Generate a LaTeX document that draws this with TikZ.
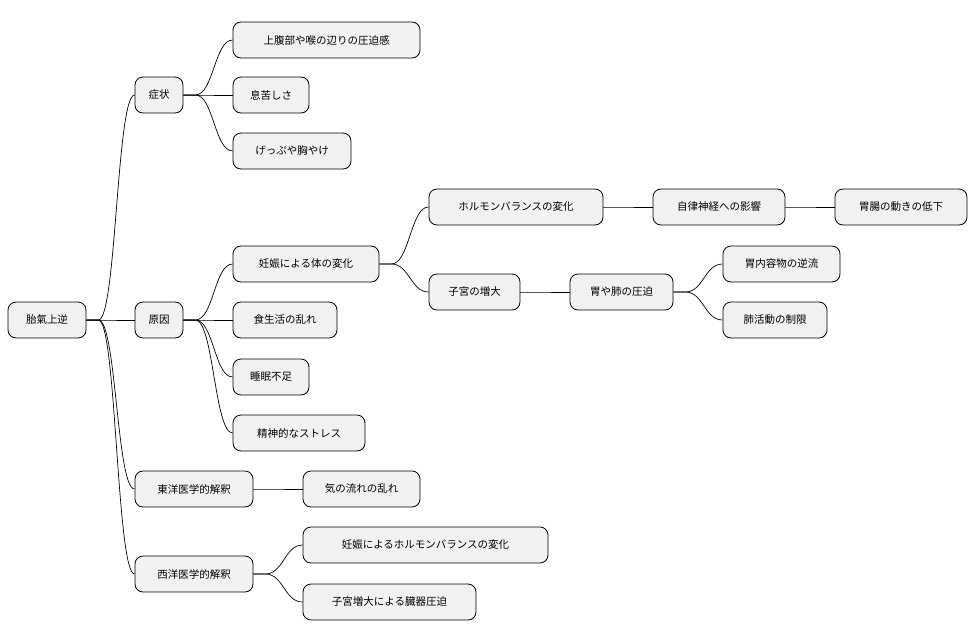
\documentclass[tikz,border=0pt]{standalone}
\usepackage{fontspec}
\setmainfont{Noto Sans CJK JP}
\begin{document}
\begin{tikzpicture}[x=1pt,y=-1pt,
  n/.style={draw=black,fill={rgb,255:red,241;green,241;blue,241},rounded corners=8pt,line width=0.8pt,minimum height=36pt,inner sep=0pt,font=\fontsize{10.5pt}{12pt}\selectfont},
  c/.style={line width=0.7pt}]
\useasboundingbox (0,0) rectangle (978,640);
\newcommand\nd[5]{\node[n,minimum width=#4-#3] (#1) at ({(#3+#4)/2},#5) {#2};}
\nd{r}{胎氣上逆}{8}{86}{320}
\nd{a}{症状}{135}{183}{95}
\nd{a1}{上腹部や喉の辺りの圧迫感}{233}{420}{40}
\nd{a2}{息苦しさ}{233}{309}{95}
\nd{a3}{げっぷや胸やけ}{233}{351}{151}
\nd{b}{原因}{135}{183}{320}
\nd{b1}{妊娠による体の変化}{233}{379}{264}
\nd{b11}{ホルモンバランスの変化}{429}{603}{207}
\nd{b111}{自律神経への影響}{653}{785}{207}
\nd{b1111}{胃腸の動きの低下}{835}{967}{207}
\nd{b12}{子宮の増大}{429}{520}{292}
\nd{b121}{胃や肺の圧迫}{570}{673}{292}
\nd{b1211}{胃内容物の逆流}{723}{840}{264}
\nd{b1212}{肺活動の制限}{723}{827}{320}
\nd{b2}{食生活の乱れ}{233}{337}{320}
\nd{b3}{睡眠不足}{233}{309}{377}
\nd{b4}{精神的なストレス}{233}{365}{433}
\nd{c}{東洋医学的解釈}{135}{253}{489}
\nd{c1}{気の流れの乱れ}{303}{420}{489}
\nd{d}{西洋医学的解釈}{135}{253}{574}
\nd{d1}{妊娠によるホルモンバランスの変化}{303}{548}{545}
\nd{d2}{子宮増大による臓器圧迫}{303}{476}{602}
\foreach \p/\q in {r/a,r/b,r/c,r/d,a/a1,a/a2,a/a3,b/b1,b/b2,b/b3,b/b4,b1/b11,b1/b12,b11/b111,b111/b1111,b12/b121,b121/b1211,b121/b1212,c/c1,d/d1,d/d2}
  \draw[c] (\p.east) -- ++(12,0) coordinate (t) .. controls +(18,0) and +(-18,0) .. (\q.west);
\end{tikzpicture}
\end{document}
